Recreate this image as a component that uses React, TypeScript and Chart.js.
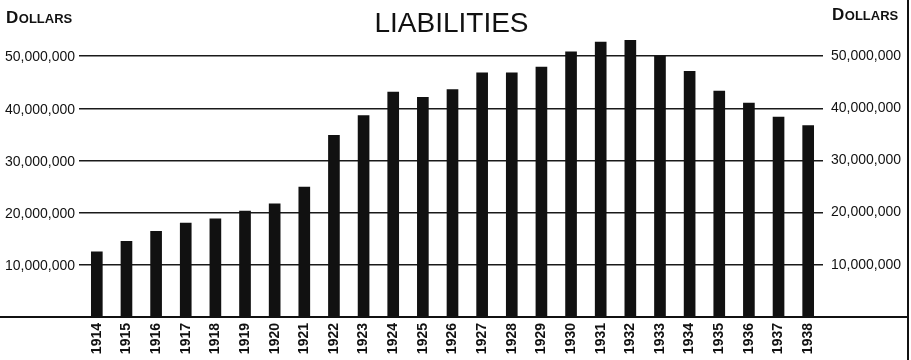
import { useEffect, useRef } from "react";
import { Chart, registerables } from "chart.js";

Chart.register(...registerables);

// Fiscal years shown along the bottom
const years = [
  "1914", "1915", "1916", "1917", "1918", "1919", "1920", "1921", "1922",
  "1923", "1924", "1925", "1926", "1927", "1928", "1929", "1930", "1931",
  "1932", "1933", "1934", "1935", "1936", "1937", "1938",
];

// Total liabilities per year, in millions of dollars
const liabilitiesMillions = [
  12.5, 14.5, 16.4, 18.0, 18.8, 20.3, 21.7, 24.9, 34.8, 38.6, 43.1, 42.1,
  43.6, 46.8, 46.8, 47.9, 50.8, 52.7, 53.0, 50.0, 47.1, 43.3, 41.0, 38.3, 36.7,
];

// Labelled gridline values (dollars)
const gridValues = [10000000, 20000000, 30000000, 40000000, 50000000];

const chartTitle = "LIABILITIES";
const unitCap = "D";
const unitRest = "OLLARS";

const numberFont = "'Liberation Sans', Arial, sans-serif";
const INK = "#111111";
const AXIS_MAX = 57300000;

function formatDollars(v: number): string {
  return v.toLocaleString("en-US");
}

function drawSmallCaps(ctx: CanvasRenderingContext2D, x: number, y: number) {
  ctx.textAlign = "left";
  ctx.textBaseline = "alphabetic";
  ctx.font = "bold 17px 'Liberation Sans', sans-serif";
  ctx.fillText(unitCap, x, y);
  const w = ctx.measureText(unitCap).width;
  ctx.font = "bold 13px 'Liberation Sans', sans-serif";
  ctx.fillText(unitRest, x + w + 0.5, y);
}

const decorPlugin = {
  id: "decor",
  afterDraw(chart: any) {
    const { ctx, chartArea } = chart;
    const y0 = chart.scales.y.getPixelForValue(0);
    ctx.save();
    ctx.strokeStyle = INK;
    ctx.lineWidth = 2;
    // base line across the full width
    ctx.beginPath();
    ctx.moveTo(0, y0);
    ctx.lineTo(909, y0);
    ctx.stroke();
    // right frame edge
    ctx.beginPath();
    ctx.moveTo(908, 0);
    ctx.lineTo(908, 360);
    ctx.stroke();

    ctx.fillStyle = INK;
    ctx.font = "28px 'Liberation Sans', sans-serif";
    ctx.textAlign = "center";
    ctx.textBaseline = "alphabetic";
    ctx.fillText(chartTitle, (chartArea.left + chartArea.right) / 2 - 1, 32);

    drawSmallCaps(ctx, 6, 23);
    drawSmallCaps(ctx, 832, 20);
    ctx.restore();
  },
};

const useGridTicks = (scale: any) => {
  scale.ticks = gridValues.map((v) => ({ value: v }));
};

export default function App() {
  const canvasRef = useRef<HTMLCanvasElement | null>(null);

  useEffect(() => {
    document.body.style.margin = "0";
    const canvas = canvasRef.current;
    if (!canvas) return;

    const tickCallback = (value: any) => formatDollars(Number(value));

    const chart = new Chart(canvas, {
      type: "bar",
      data: {
        labels: years,
        datasets: [
          {
            data: liabilitiesMillions.map((m) => m * 1000000),
            backgroundColor: INK,
            borderWidth: 0,
            barThickness: 11,
          },
        ],
      },
      options: {
        responsive: false,
        animation: false,
        devicePixelRatio: 1,
        layout: { padding: { top: 18, right: 0, left: 0, bottom: 0 } },
        plugins: {
          legend: { display: false },
          tooltip: { enabled: false },
          title: { display: false },
        },
        scales: {
          x: {
            grid: { display: false, drawTicks: false },
            border: { display: false },
            ticks: {
              color: INK,
              maxRotation: 90,
              minRotation: 90,
              autoSkip: false,
              padding: 6,
              font: { family: numberFont, size: 14, weight: "bold" },
            },
            afterFit(scale: any) {
              scale.height = 43;
            },
          },
          y: {
            position: "left",
            min: 0,
            max: AXIS_MAX,
            afterBuildTicks: useGridTicks,
            ticks: {
              color: INK,
              padding: 4,
              labelOffset: 1.5,
              font: { family: numberFont, size: 14 },
              callback: tickCallback,
            },
            grid: {
              color: "#1a1a1a",
              lineWidth: 1.5,
              drawTicks: true,
              tickLength: 3,
            },
            border: { display: false },
            afterFit(scale: any) {
              scale.width = 82;
            },
          },
          yRight: {
            position: "right",
            min: 0,
            max: AXIS_MAX,
            afterBuildTicks: useGridTicks,
            ticks: {
              color: INK,
              padding: 8,
              labelOffset: 0,
              font: { family: numberFont, size: 14 },
              callback: tickCallback,
            },
            grid: { display: false, drawTicks: false },
            border: { display: false },
            afterFit(scale: any) {
              scale.width = 88;
            },
          },
        },
      },
      plugins: [decorPlugin],
    });

    return () => chart.destroy();
  }, []);

  return (
    <div style={{ width: 911, height: 360, background: "#fff" }}>
      <canvas ref={canvasRef} width={911} height={360} style={{ display: "block" }} />
    </div>
  );
}
